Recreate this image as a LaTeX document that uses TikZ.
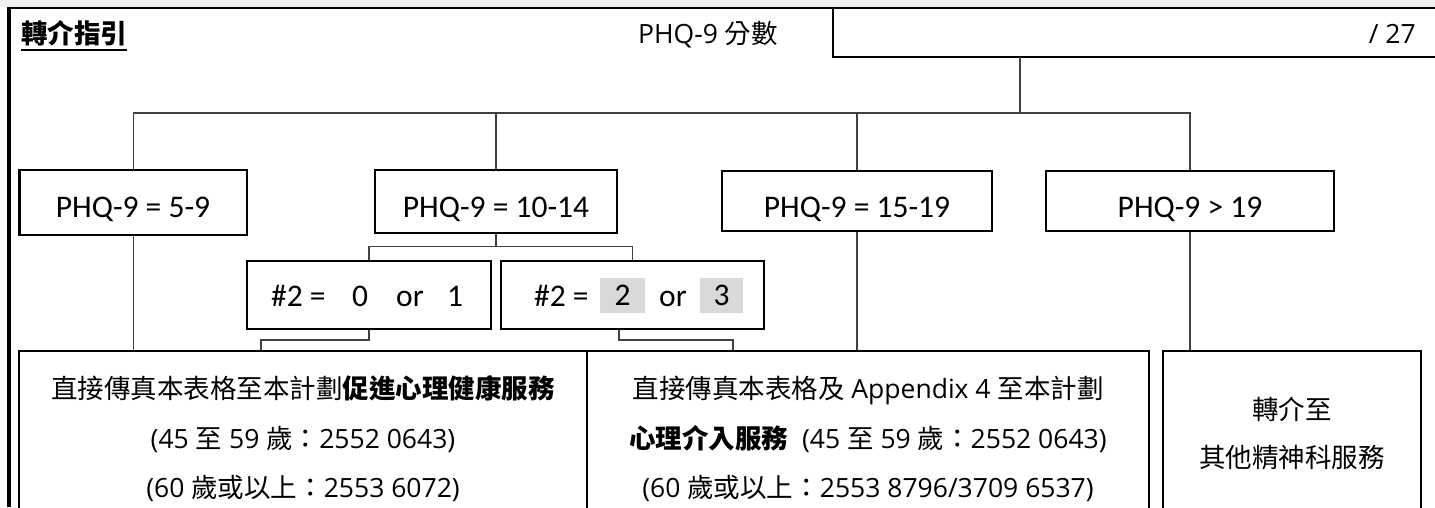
\documentclass[tikz,border=0pt]{standalone}
\usepackage{fontspec}
\setmainfont{Open Sans}
\newfontfamily\cjkf{Noto Sans CJK TC}
\newfontfamily\calf{Carlito}
\newcommand\zh[1]{{\cjkf #1}}
\newcommand\zhb[1]{{\cjkf\bfseries #1}}
\definecolor{band}{HTML}{F0F0F0}
\definecolor{hl}{HTML}{D9D9D9}
\definecolor{conncol}{HTML}{404040}
\begin{document}
\begin{tikzpicture}[x=1pt,y=-1pt,
  box/.style={draw=black, line width=2.4pt, inner sep=0pt, outer sep=0pt, rectangle, fill=white},
  conn/.style={draw=conncol, line width=1.2pt},
  frame/.style={draw=black, line width=2pt},
  cal/.style={font=\calf\fontsize{31.5}{36}\selectfont, inner sep=0pt, anchor=base},
  body/.style={font=\fontsize{26.5}{30}\selectfont, inner sep=0pt, anchor=base},
  hlbox/.style={fill=hl, inner sep=0pt, minimum height=35pt, font=\calf\fontsize{31.5}{36}\selectfont},
]
\clip (0,0) rectangle (1435,507);
% page frame
\fill[band] (0,0) rectangle (1435,6.5);
\draw[frame] (7,7.5) -- (1435,7.5);
\draw[black, line width=4pt] (9.3,7) -- (9.3,507);
\draw[frame] (833,7.5) -- (833,56.7) -- (1435,56.7);

% header texts
\node[anchor=base west, inner sep=0pt, font=\cjkf\bfseries\fontsize{26.5}{30}\selectfont] (title) at (21,43) {轉介指引};
\draw[line width=1.8pt] ([yshift=-7pt]title.base west) -- ([yshift=-7pt]title.base east);
\node[body] (phq) at (708,43) {PHQ-9 \zh{分數}};
\node[body, anchor=base east] (outof) at (1416,43) {/ 27};

% coordinates
\coordinate (score) at (1020,56.7);
\coordinate (hub) at (1020,113);
\coordinate (split) at (496,246.7);
\coordinate (aL) at (261,351);
\coordinate (bM) at (733,351);

% boxes (positions)
\path
  (133.25,202.5) node[box, minimum width=227.5pt, minimum height=65pt] (b1) {}
  (496,201.5) node[box, minimum width=242pt, minimum height=63pt] (b2) {}
  (857,201) node[box, minimum width=270pt, minimum height=60pt] (b3) {}
  (1190,201) node[box, minimum width=288pt, minimum height=60pt] (b4) {};

% connectors
\draw[conn] (score) -- (hub);
\draw[conn] (b1.north) -- (b1.north |- hub) -- (b4.north |- hub) -- (b4.north);
\draw[conn] (b2.north) -- (b2.north |- hub);
\draw[conn] (b3.north) -- (b3.north |- hub);

\path
  (369,295) node[box, minimum width=244pt, minimum height=68pt] (sa) {}
  (632.5,295) node[box, minimum width=263pt, minimum height=68pt] (sb) {}
  (303,435.5) node[box, minimum width=568pt, minimum height=169pt] (bl) {}
  (868,435.5) node[box, minimum width=562pt, minimum height=169pt] (bm) {}
  (1292,435.5) node[box, minimum width=258pt, minimum height=169pt] (br) {};

\draw[conn] (b1.south) -- (b1.south |- bl.north);
\draw[conn] (b2.south) -- (split);
\draw[conn] (sa.north) |- (split) -| (sb.north);
\draw[conn] (sa.south) -- ++(0,11) -| (aL);
\draw[conn] ([xshift=-13.5pt]sb.south) -- ++(0,11) -| (bM);
\draw[conn] (b3.south) -- (b3.south |- bm.north);
\draw[conn] (b4.south) -- (b4.south |- br.north);

% redraw boxes on top of connectors
\foreach \n in {b1,b2,b3,b4,sa,sb,bl,bm,br}{
  \draw[line width=2.4pt] (\n.north west) rectangle (\n.south east);
}

% level-1 labels
\node[cal] (t1) at (133,217) {PHQ-9 = 5-9};
\node[cal] (t2) at (496,217) {PHQ-9 = 10-14};
\node[cal] (t3) at (857,217) {PHQ-9 = 15-19};
\node[cal] (t4) at (1190,217) {PHQ-9 > 19};

% sub-box labels
\node[cal, anchor=base west] (sa1) at (271,306) {\#2 =};
\node[cal] (sa2) at (360,306) {0};
\node[cal, anchor=base west] (sa3) at (396,306) {or};
\node[cal] (sa4) at (455,306) {1};
\node[cal, anchor=base west] (sb1) at (534,306) {\#2 =};
\node[hlbox, minimum width=45pt] (hl2) at (622.5,295.5) {2};
\node[cal, anchor=base west] (sb3) at (659,306) {or};
\node[hlbox, minimum width=43pt] (hl3) at (721.5,295.5) {3};

% bottom texts
\node[body] (l1) at (303,398) {\zh{直接傳真本表格至本計劃}\zhb{促進心理健康服務}};
\node[body] (l2) at (303,448) {(45 \zh{至} 59 \zh{歲：}2552 0643)};
\node[body] (l3) at (303,497) {(60 \zh{歲或以上：}2553 6072)};
\node[body] (m1) at (868,398) {\zh{直接傳真本表格及} Appendix 4 \zh{至本計劃}};
\node[body] (m2) at (868,448) {\zhb{心理介入服務}\ \ (45 \zh{至} 59 \zh{歲：}2552 0643)};
\node[body] (m3) at (868,497) {(60 \zh{歲或以上：}2553 8796/3709 6537)};
\node[body] (r1) at (1292,419) {\zh{轉介至}};
\node[body] (r2) at (1292,467) {\zh{其他精神科服務}};
\end{tikzpicture}
\end{document}
